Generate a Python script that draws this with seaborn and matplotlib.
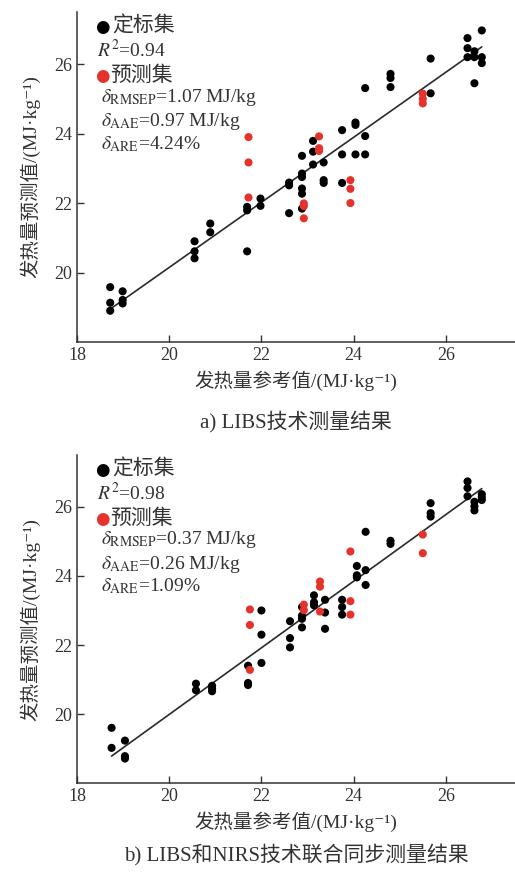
import pandas as pd
import seaborn as sns
import matplotlib.pyplot as plt

# =============================================================================
# 1. DATA
# =============================================================================
# a) LIBS only
a_cal_x = [18.72, 18.72, 18.72, 18.99, 18.99, 18.99, 20.55, 20.55, 20.55,
           20.89, 20.89, 21.69, 21.69, 21.69, 21.98, 21.98, 22.60, 22.60, 22.60,
           22.88, 22.88, 22.88, 22.88, 22.88, 22.88, 23.12, 23.12, 23.12,
           23.35, 23.35, 23.35, 23.75, 23.75, 23.75, 24.04, 24.04, 24.04,
           24.25, 24.25, 24.25, 24.80, 24.80, 24.80, 25.67, 25.67,
           26.47, 26.47, 26.47, 26.62, 26.62, 26.62, 26.78, 26.78, 26.78]
a_cal_y = [19.58, 19.13, 18.90, 19.46, 19.21, 19.11, 20.90, 20.61, 20.41,
           21.41, 21.16, 21.89, 21.79, 20.61, 22.13, 21.92, 22.59, 22.51, 21.71,
           23.36, 22.85, 22.75, 22.42, 22.27, 21.84, 23.79, 23.48, 23.11,
           23.17, 22.66, 22.58, 24.10, 23.40, 22.58, 24.32, 24.25, 23.40,
           25.31, 23.93, 23.40, 25.72, 25.60, 25.34, 26.16, 25.16,
           26.75, 26.46, 26.20, 26.37, 26.20, 25.45, 26.97, 26.20, 26.03]
a_pre_x = [21.72, 21.72, 21.72, 22.92, 22.92, 22.92, 23.25, 23.25, 23.25,
           23.93, 23.93, 23.93, 25.50, 25.50, 25.50]
a_pre_y = [23.90, 23.17, 22.16, 21.99, 21.91, 21.56, 23.92, 23.58, 23.50,
           22.66, 22.41, 22.00, 25.15, 25.00, 24.87]
a_stats = ["0.94", "1.07", "0.97", "4.24"]

# b) LIBS + NIRS
b_cal_x = [18.75, 18.75, 19.04, 19.04, 19.04, 20.58, 20.58,
           20.93, 20.93, 20.93, 21.71, 21.71, 21.71, 22.00, 22.00, 22.00,
           22.62, 22.62, 22.62, 22.88, 22.88, 22.88, 22.88, 23.14, 23.14, 23.14,
           23.38, 23.38, 23.38, 23.75, 23.75, 23.75, 24.07, 24.07, 24.07,
           24.26, 24.26, 24.26, 24.80, 24.80, 25.67, 25.67, 25.67,
           26.47, 26.47, 26.47, 26.62, 26.62, 26.62, 26.78, 26.78, 26.78]
b_cal_y = [19.60, 19.02, 19.23, 18.78, 18.71, 20.88, 20.69,
           20.82, 20.74, 20.66, 21.40, 20.90, 20.84, 23.00, 22.30, 21.48,
           22.69, 22.20, 21.93, 23.10, 22.85, 22.76, 22.51, 23.44, 23.24, 23.15,
           23.31, 22.94, 22.47, 23.31, 23.10, 22.88, 24.29, 24.02, 23.96,
           25.28, 24.17, 23.74, 25.02, 24.93, 26.11, 25.82, 25.72,
           26.74, 26.55, 26.31, 26.15, 26.02, 25.90, 26.37, 26.28, 26.20]
b_pre_x = [21.75, 21.75, 21.75, 22.92, 22.92, 23.27, 23.27, 23.27,
           23.93, 23.93, 23.93, 25.50, 25.50]
b_pre_y = [23.03, 22.58, 21.28, 23.17, 23.01, 23.84, 23.69, 22.97,
           24.71, 23.27, 22.88, 25.20, 24.66]
b_stats = ["0.98", "0.37", "0.26", "1.09"]

captions = ["a) LIBS技术测量结果", "b) LIBS和NIRS技术联合同步测量结果"]
xlabel = "发热量参考值/(MJ·kg⁻¹)"
ylabel = "发热量预测值/(MJ·kg⁻¹)"
xticks = [18, 20, 22, 24, 26]
yticks = [20, 22, 24, 26]

RED = '#e5322d'
TXT = '#333333'

# =============================================================================
# 2. STYLE
# =============================================================================
sns.set_style("ticks")
plt.rcParams['font.family'] = ['Liberation Serif', 'Noto Sans CJK SC', 'DejaVu Serif']
plt.rcParams['mathtext.fontset'] = 'stix'
plt.rcParams['axes.unicode_minus'] = False


def draw_panel(ax, cal_x, cal_y, pre_x, pre_y, stats, caption, cap_y):
    cal = pd.DataFrame({'ref': cal_x, 'pred': cal_y})
    pre = pd.DataFrame({'ref': pre_x, 'pred': pre_y})

    sns.regplot(x='ref', y='pred', data=cal, scatter=False, ci=None,
                truncate=True, line_kws=dict(color='#2a2a2a', lw=1.2), ax=ax)
    sns.scatterplot(x='ref', y='pred', data=cal, color='black', s=34,
                    edgecolor='none', ax=ax, zorder=3)
    sns.scatterplot(x='ref', y='pred', data=pre, color=RED, s=34,
                    edgecolor='none', ax=ax, zorder=4)

    ax.set_xlim(18, 27.5)
    ax.set_ylim(18, 27.5)
    ax.set_xticks(xticks)
    ax.set_yticks(yticks)
    ax.tick_params(direction='in', length=5, width=1, labelsize=13, colors=TXT)
    for s in ['left', 'bottom']:
        ax.spines[s].set_linewidth(1.1)
        ax.spines[s].set_color(TXT)
    sns.despine(ax=ax)

    ax.set_xlabel(xlabel, fontsize=14, color=TXT, labelpad=5)
    ax.set_ylabel(ylabel, fontsize=14, color=TXT, labelpad=10)

    # legend-like annotation block
    ax.text(0.042, 0.955, '●', color='black', fontsize=12, family=['DejaVu Sans'],
            transform=ax.transAxes, va='center')
    ax.text(0.08, 0.955, '定标集', color=TXT, fontsize=15, transform=ax.transAxes, va='center')
    ax.text(0.045, 0.885, '$R^2$=' + stats[0], color=TXT, fontsize=14,
            transform=ax.transAxes, va='center')
    ax.text(0.042, 0.805, '●', color=RED, fontsize=12, family=['DejaVu Sans'],
            transform=ax.transAxes, va='center')
    ax.text(0.075, 0.805, '预测集', color=TXT, fontsize=15, transform=ax.transAxes, va='center')
    ax.text(0.055, 0.742, r'$\delta_{\rm RMSEP}$=' + stats[1] + ' MJ/kg', color=TXT,
            fontsize=14, transform=ax.transAxes, va='center')
    ax.text(0.055, 0.667, r'$\delta_{\rm AAE}$=' + stats[2] + ' MJ/kg', color=TXT,
            fontsize=14, transform=ax.transAxes, va='center')
    ax.text(0.055, 0.600, r'$\delta_{\rm ARE}$=' + stats[3] + '%', color=TXT,
            fontsize=14, transform=ax.transAxes, va='center')

    ax.text(0.5, cap_y, caption, color=TXT, fontsize=15, ha='center', va='center',
            transform=ax.transAxes)


# =============================================================================
# 3. FIGURE
# =============================================================================
fig = plt.figure(figsize=(5.15, 8.72), dpi=100)
ax1 = fig.add_axes([0.1495, 0.6078, 0.8505, 0.3784])
ax2 = fig.add_axes([0.1495, 0.102, 0.8505, 0.376])

draw_panel(ax1, a_cal_x, a_cal_y, a_pre_x, a_pre_y, a_stats, captions[0], -0.245)
draw_panel(ax2, b_cal_x, b_cal_y, b_pre_x, b_pre_y, b_stats, captions[1], -0.222)

fig.savefig('out.png', dpi=100, facecolor='white')
